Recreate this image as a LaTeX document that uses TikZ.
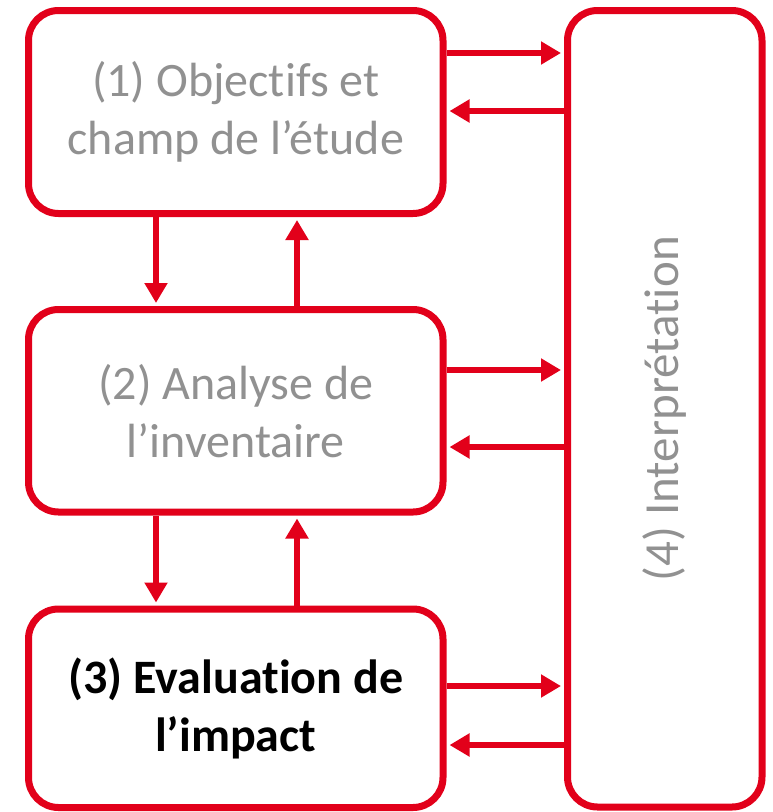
\documentclass[tikz,border=0pt]{standalone}
\usepackage{fontspec}
\setmainfont{Carlito}[Ligatures={NoCommon,NoContextual}]
\usetikzlibrary{arrows.meta}
\definecolor{lcared}{RGB}{226,0,26}
\definecolor{lcagray}{RGB}{145,145,145}
\newcommand{\nolig}{\kern0pt{}}
\tikzset{
  phasebox/.style={draw=lcared, line width=7pt, rounded corners=30pt, fill=white,
    inner sep=0pt, align=center, font=\fontsize{48}{58}\selectfont, text=lcagray},
  flowarrow/.style={draw=lcared, line width=6.5pt,
    -{Triangle[length=20pt,width=22pt]}, shorten >=3pt},
}
\begin{document}
\begin{tikzpicture}[x=1pt,y=-1pt]
\useasboundingbox (0,0) rectangle (772,812);
\node[phasebox, minimum width=414.5pt, minimum height=203pt] (b1) at (235.75,112)
  {(1) Objec\nolig t\nolig ifs et\\champ de l’étude};
\node[phasebox, minimum width=414.5pt, minimum height=202.5pt] (b2) at (235.75,410.75)
  {(2) Analyse de\\l’inventaire};
\node[phasebox, minimum width=414.5pt, minimum height=198.5pt, text=black,
  font=\fontsize{48}{58}\selectfont\bfseries] (b3) at (235.75,708.25)
  {(3) Evaluat\nolig ion de\\l’impact};
\node[phasebox, minimum width=194.5pt, minimum height=796.5pt] (b4) at (664.75,408.75) {};
\node[rotate=90, text=lcagray, font=\fontsize{49}{58}\selectfont, inner sep=0pt] (t4)
  at (b4.center) {(4) Interprétat\nolig ion};
% horizontal arrows
\draw[flowarrow] (b1.east |- 0,53) -- (b4.west |- 0,53);
\draw[flowarrow] (b4.west |- 0,111) -- (b1.east |- 0,111);
\draw[flowarrow] (b2.east |- 0,370) -- (b4.west |- 0,370);
\draw[flowarrow] (b4.west |- 0,447) -- (b2.east |- 0,447);
\draw[flowarrow] (b3.east |- 0,686) -- (b4.west |- 0,686);
\draw[flowarrow] (b4.west |- 0,745) -- (b3.east |- 0,745);
% vertical arrows
\draw[flowarrow] (b1.south -| 156,0) -- (b2.north -| 156,0);
\draw[flowarrow] (b2.north -| 297,0) -- (b1.south -| 297,0);
\draw[flowarrow] (b2.south -| 156,0) -- (b3.north -| 156,0);
\draw[flowarrow] (b3.north -| 297,0) -- (b2.south -| 297,0);
\end{tikzpicture}
\end{document}
